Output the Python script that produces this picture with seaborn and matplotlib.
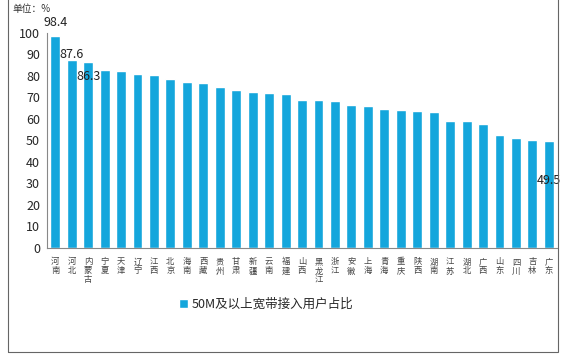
import matplotlib
matplotlib.use("Agg")
import matplotlib.pyplot as plt
import seaborn as sns
import pandas as pd
from matplotlib.patches import Rectangle

provinces = ["河南", "河北", "内蒙古", "宁夏", "天津", "辽宁", "江西", "北京", "海南", "西藏",
             "贵州", "甘肃", "新疆", "云南", "福建", "山西", "黑龙江", "浙江", "安徽", "上海",
             "青海", "重庆", "陕西", "湖南", "江苏", "湖北", "广西", "山东", "四川", "吉林", "广东"]
share = [98.4, 87.6, 86.3, 82.8, 82.4, 81.0, 80.5, 78.4, 77.3, 76.8,
         74.8, 73.5, 72.6, 72.1, 71.6, 68.9, 68.9, 68.4, 66.6, 66.1,
         64.7, 64.3, 63.9, 63.3, 59.2, 59.2, 57.8, 52.7, 50.9, 50.4, 49.5]
series_name = "50M及以上宽带接入用户占比"
# (index, label y position) for the labels Excel left on the chart
labelled = [(0, 105.0), (1, 90.2), (2, 79.6), (30, 31.2)]

df = pd.DataFrame({"province": provinces, "share": share})

sns.set_style("white")
plt.rcParams["font.family"] = ["Noto Sans CJK SC", "DejaVu Sans"]

fig = plt.figure(figsize=(5.63, 3.59), dpi=100)
ax = fig.add_axes([0.0835, 0.310, 0.906, 0.598])

sns.barplot(data=df, x="province", y="share", color="#14a6dc", saturation=1,
            width=0.6, ax=ax, label=series_name)

ax.set_ylim(0, 100)
ax.set_xlim(-0.5, len(provinces) - 0.5)
ax.set_yticks(range(0, 101, 10))
ax.tick_params(axis="y", labelsize=9, length=3, color="#888888", pad=2)
ax.set_xticks(range(len(provinces)))
ax.set_xticklabels(["\n".join(p) for p in provinces], fontsize=6, linespacing=1.0,
                   color="#444444")
ax.tick_params(axis="x", length=0, pad=7)
# small ticks between categories
ax.set_xticks([i + 0.5 for i in range(len(provinces) - 1)], minor=True)
ax.tick_params(axis="x", which="minor", length=3, color="#888888", direction="out")
ax.set_xlabel("")
ax.set_ylabel("")
for side in ["top", "right"]:
    ax.spines[side].set_visible(False)
for side in ["left", "bottom"]:
    ax.spines[side].set_color("#888888")
    ax.spines[side].set_linewidth(0.8)

for i, y in labelled:
    ax.text(i, y, f"{share[i]:.1f}", ha="center", va="center", fontsize=9,
            color="#222222", clip_on=False)

ax.legend(loc="upper center", bbox_to_anchor=(0.43, -0.18), frameon=False,
          fontsize=9, handlelength=0.7, handleheight=0.7, handletextpad=0.3)

fig.text(12 / 563, 1 - 9 / 359, "单位：%", fontsize=7, color="#333333", va="center")

fig.patches.append(Rectangle((8 / 563, 7 / 359), 550 / 563, 1.0, transform=fig.transFigure,
                             fill=False, edgecolor="#666666", linewidth=0.8))

fig.savefig("out.png", dpi=100)
